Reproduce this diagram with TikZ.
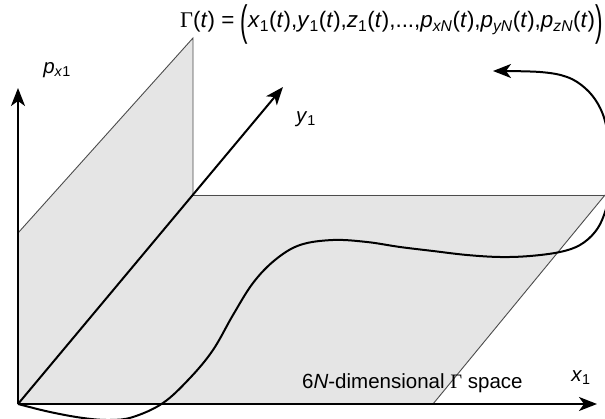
\documentclass[tikz,border=0pt]{standalone}
\usepackage{fontspec}
\setmainfont{Liberation Sans}
\newfontfamily\serifG{Liberation Serif}
\usepackage{graphicx}
\usetikzlibrary{arrows.meta}
\newcommand{\bigpar}[1]{\raisebox{-0.33em}{\scalebox{1}[1.9]{#1}}}
\begin{document}
\begin{tikzpicture}[x=1pt,y=-1pt,
  axis/.style={line width=2pt, -{Stealth[length=18pt,width=14pt,inset=5pt]}},
  edge/.style={line width=0.9pt, draw=black!70},
  surf/.style={fill=black!10},
  curve/.style={line width=2pt},
  lbl/.style={font=\fontsize{20.5}{24}\selectfont, inner sep=0pt},
  ttl/.style={font=\fontsize{22.4}{26}\selectfont, inner sep=0pt}]
\useasboundingbox (0,0) rectangle (605,419);
\clip (0,0) rectangle (605,419);
% key points
\coordinate (O) at (18,404);
\coordinate (xend) at (597,404);
\coordinate (pend) at (18,88);
\coordinate (yend) at (283,87);
\coordinate (wtopL) at (18,233);
\coordinate (wtopR) at (193,38);
\coordinate (ymid) at (193,195);
\coordinate (ptopR) at (605,195);
\coordinate (pbotR) at (433,404);
% surfaces
\fill[surf] (O) -- (wtopL) -- (wtopR) -- (ymid) -- cycle;
\fill[surf] (O) -- (ymid) -- (ptopR) -- (pbotR) -- cycle;
\draw[edge] (wtopL) -- (wtopR) -- (ymid);
\draw[edge] (ymid) -- (ptopR);
\draw[edge] (ptopR) -- (pbotR);
% axes
\draw[axis] (O) -- (xend);
\draw[axis] (O) -- (pend);
\draw[axis] (O) -- (yend);
% trajectory
\draw[curve, -{Stealth[length=18pt,width=14pt,inset=5pt]}] plot[smooth, tension=0.6] coordinates {
  (18,404) (50,412) (83,418) (110,420) (133,417) (163,403) (190,378) (213,350)
  (233,315) (253,283) (275,260) (300,245) (333,240) (367,242) (400,247)
  (433,251) (467,255) (500,257) (530,256) (560,252) (580,245) (595,232)
  (604,215) (610,190) (611,160) (606,125) (598,104) (585,88) (567,77)
  (540,72) (493,71)};
% labels
\node[lbl] (lp) at (57,70) {\textit{p}\textsubscript{\textit{x}1}};
\node[lbl] (ly) at (306,119) {\textit{y}\textsubscript{1}};
\node[lbl] (lx) at (581,378) {\textit{x}\textsubscript{1}};
\node[lbl, anchor=west] (lspace) at (302,383) {6\textit{N}-dimensional {\serifG Γ} space};
\node[ttl, anchor=west] (title) at (180,24) {{\serifG Γ}(\textit{t}) = \bigpar{(}\textit{x}\textsubscript{1}(\textit{t}),\textit{y}\textsubscript{1}(\textit{t}),\textit{z}\textsubscript{1}(\textit{t}),...,\textit{p}\textsubscript{\textit{xN}}(\textit{t}),\textit{p}\textsubscript{\textit{yN}}(\textit{t}),\textit{p}\textsubscript{\textit{zN}}(\textit{t})\bigpar{)}};
\end{tikzpicture}
\end{document}
